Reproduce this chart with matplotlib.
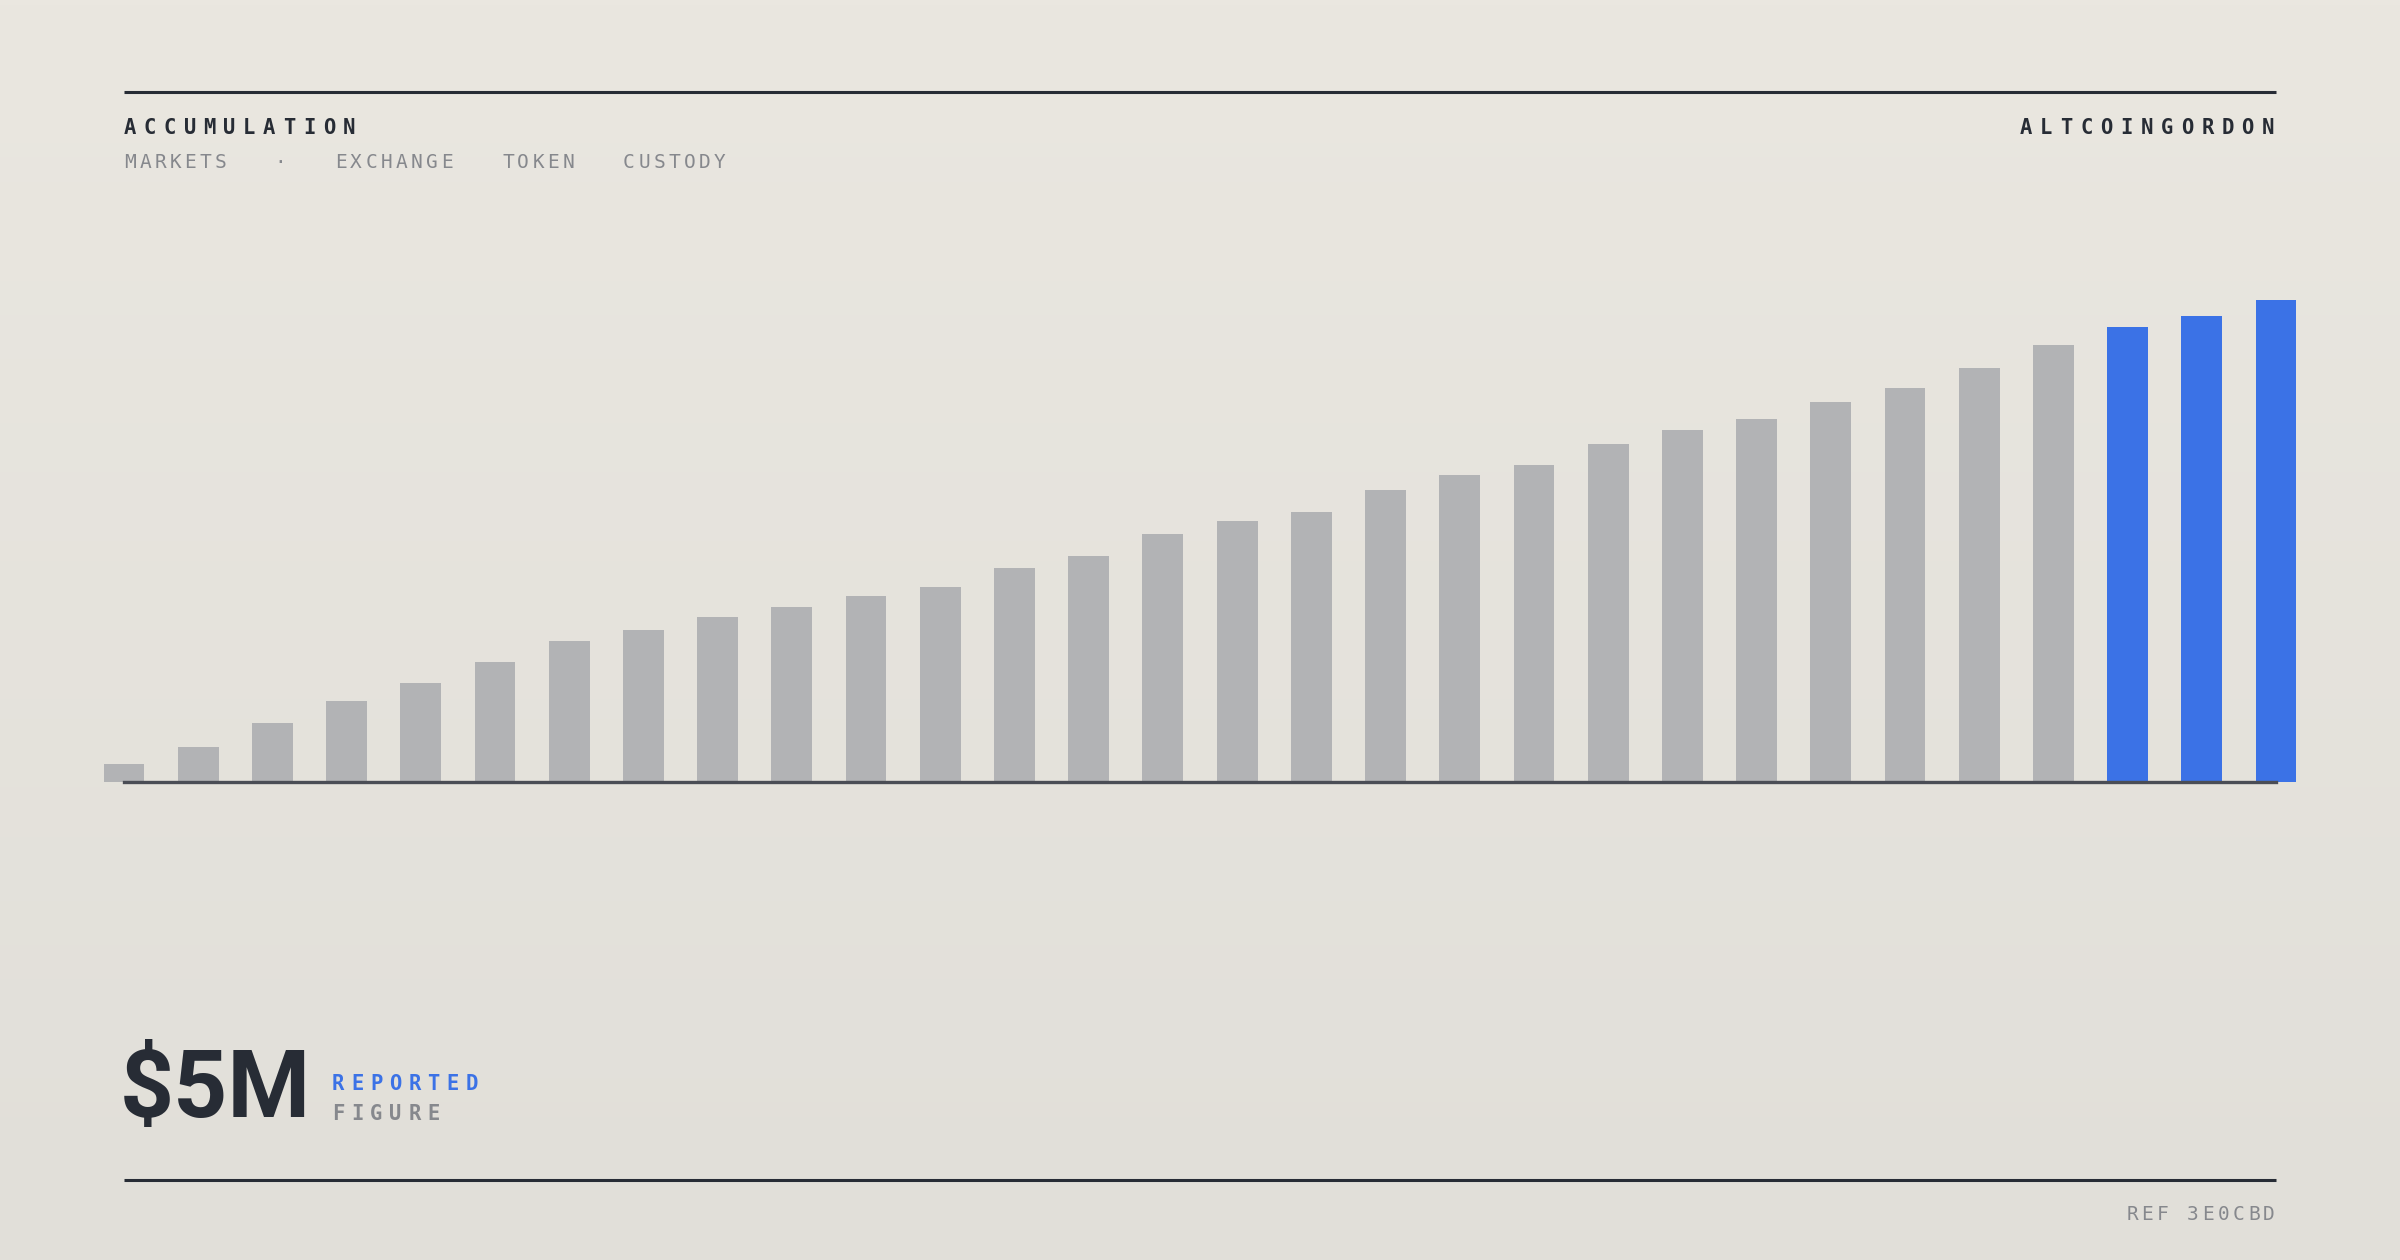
import numpy as np
import matplotlib
matplotlib.use("Agg")
import matplotlib.pyplot as plt
from matplotlib.lines import Line2D
from matplotlib.transforms import Affine2D

# valores ($M), ultimo = 5
valores = [0.19, 0.36, 0.61, 0.84, 1.03, 1.24, 1.46, 1.58, 1.71, 1.82,
           1.93, 2.02, 2.22, 2.34, 2.57, 2.71, 2.80, 3.03, 3.18, 3.29,
           3.51, 3.65, 3.77, 3.94, 4.09, 4.29, 4.53, 4.72, 4.83, 5.00]
n_destaque = 3

titulo = "ACCUMULATION"
marca = "ALTCOINGORDON"
subtitulo = ["MARKETS", "\u00b7", "EXCHANGE", "TOKEN", "CUSTODY"]
numero = "$5M"
rotulo1 = "REPORTED"
rotulo2 = "FIGURE"
ref = "REF 3E0CBD"

W, H = 2400, 1260
ESCURO = "#272c35"
CINZA_TXT = "#86888d"
CINZA_BARRA = "#b2b3b5"
AZUL = "#3b72e6"

fig = plt.figure(figsize=(W / 200, H / 200), dpi=200)
fig.patch.set_facecolor("#e7e5df")

# fundo em degrade
bg = fig.add_axes([0, 0, 1, 1], zorder=-10)
grad = np.linspace(0, 1, 256).reshape(-1, 1)
c_top = np.array([234, 231, 224]) / 255
c_bot = np.array([225, 223, 217]) / 255
img = c_top[None, None, :] * (1 - grad[..., None]) + c_bot[None, None, :] * grad[..., None]
bg.imshow(img, aspect="auto", extent=[0, 1, 0, 1])
bg.axis("off")

# transformacao em pixels (origem no topo)
px = Affine2D().scale(1 / W, -1 / H).translate(0, 1) + fig.transFigure


def linha(x0, x1, y, lw=1.1, cor=ESCURO):
    fig.add_artist(Line2D([x0, x1], [y, y], transform=px, color=cor,
                          linewidth=lw, solid_capstyle="butt"))


def espacado(x0, y, s, passo, **kw):
    # texto com espacamento entre letras (centro do primeiro caractere em x0)
    for i, ch in enumerate(s):
        fig.text(x0 + i * passo, y, ch, transform=px, ha="center",
                 va="baseline", **kw)


mono = ["DejaVu Sans Mono"]

linha(124, 2276, 92)
linha(124, 2276, 1180)

espacado(130, 134, titulo, 19.9, family=mono, fontsize=7.4,
         fontweight="bold", color=ESCURO)
espacado(2268 - 20.2 * (len(marca) - 1), 134, marca, 20.2, family=mono,
         fontsize=7.4, fontweight="bold", color=ESCURO)

pos_sub = [130, 280, 341, 508, 629]
for palavra, x0 in zip(subtitulo, pos_sub):
    espacado(x0, 168, palavra, 15.1, family=mono, fontsize=7.0,
             color=CINZA_TXT)

# numero grande
fig.text(120, 1117, numero, transform=px, ha="left", va="baseline",
         family=["Roboto", "DejaVu Sans"], fontweight="bold",
         fontsize=34, color=ESCURO)

espacado(338, 1090, rotulo1, 19.1, family=mono, fontsize=7.4,
         fontweight="bold", color=AZUL)
espacado(338, 1120, rotulo2, 19.2, family=mono, fontsize=7.4,
         fontweight="bold", color=CINZA_TXT)
espacado(2269 - 15.2 * (len(ref) - 1), 1220, ref, 15.2, family=mono,
         fontsize=7.0, color=CINZA_TXT)

# grafico de barras
ax = fig.add_axes([124 / W, 1 - 782 / H, (2276 - 124) / W, (782 - 300) / H])
ax.patch.set_alpha(0)
x = np.arange(len(valores))
cores = [CINZA_BARRA] * (len(valores) - n_destaque) + [AZUL] * n_destaque
ax.bar(x, valores, width=0.55, color=cores, clip_on=False, zorder=2)
ax.axhline(0, color="#4a4d55", linewidth=1.2, zorder=3, clip_on=False)
ax.set_xlim(0, len(valores) - 1)
ax.set_ylim(0, max(valores))
ax.axis("off")

fig.savefig("out.png", dpi=200, facecolor=fig.get_facecolor())
